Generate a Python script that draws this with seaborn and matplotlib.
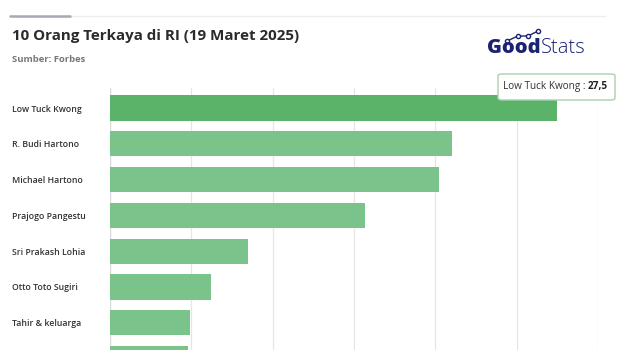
import matplotlib
matplotlib.use("Agg")
import matplotlib.pyplot as plt
from matplotlib.lines import Line2D
from matplotlib.patches import FancyBboxPatch
import seaborn as sns
import pandas as pd

# Net worth in billion USD (Forbes, 19 March 2025)
names = ["Low Tuck Kwong", "R. Budi Hartono", "Michael Hartono", "Prajogo Pangestu",
         "Sri Prakash Lohia", "Otto Toto Sugiri", "Tahir & keluarga", "Chairul Tanjung"]
net_worth = [27.5, 21.0, 20.2, 15.7, 8.5, 6.2, 4.9, 4.8]
x_ticks = [0, 5, 10, 15, 20, 25, 30]

df = pd.DataFrame({"name": names, "value": net_worth})

sns.set_theme(style="white")
plt.rcParams["font.family"] = ["Open Sans", "DejaVu Sans"]

W, H = 640, 350
fig = plt.figure(figsize=(W / 100, H / 100), dpi=100)
fig.patch.set_facecolor("white")

slot = 35.8
top_px = 88
left_px, right_px = 110, 598
first_center = 108
y_top = -(first_center - top_px) / slot
y_bottom = 9.5
ax_h_px = (y_bottom - y_top) * slot
ax = fig.add_axes([left_px / W, 1 - (top_px + ax_h_px) / H,
                   (right_px - left_px) / W, ax_h_px / H])

palette = ["#5BB36A"] + ["#7AC38A"] * (len(names) - 1)
sns.barplot(data=df, x="value", y="name", hue="name", palette=palette, saturation=1,
            orient="h", width=0.7, legend=False, ax=ax, zorder=2)
for p in ax.patches:
    p.set_edgecolor("none")

ax.set_xlim(0, 30)
ax.set_ylim(y_bottom, y_top)
ax.set_xticks(x_ticks)
ax.set_xticklabels([])
ax.xaxis.grid(True, color="#E6E6E6", linewidth=0.9, zorder=0)
ax.yaxis.grid(False)
ax.set_xlabel("")
ax.set_ylabel("")
for s in ax.spines.values():
    s.set_visible(False)
ax.axvline(0, color="#DADADA", linewidth=0.9, zorder=1)
# labels start 12 px from the figure edge
ax.tick_params(axis="y", length=0, pad=(left_px - 12) * 0.72)
ylabels = ax.get_yticklabels()
for lab in ylabels:
    lab.set_horizontalalignment("left")
    lab.set_fontsize(6.3)
    lab.set_color("#333333")
    lab.set_fontweight("semibold")
# the last row sits below the bottom edge of the canvas
ylabels[-1].set_visible(False)

# header rule
fig.add_artist(Line2D([10 / W, 605 / W], [1 - 16 / H] * 2, color="#EEEEEE", linewidth=1.0))
fig.add_artist(Line2D([10 / W, 70 / W], [1 - 16 / H] * 2, color="#A7A9B4", linewidth=1.8))

fig.text(12 / W, 1 - 36 / H, "10 Orang Terkaya di RI (19 Maret 2025)", fontsize=10.9,
         fontweight="bold", color="#2B2B2B", va="center", ha="left")
fig.text(12 / W, 1 - 60 / H, "Sumber: Forbes", fontsize=6.8, fontweight="bold",
         color="#777777", va="center", ha="left")

# GoodStats logo
navy = "#1B2272"
t1 = fig.text(487 / W, 1 - 48 / H, "Good", fontsize=14.5, fontweight="heavy",
              color=navy, va="center", ha="left")
fig.canvas.draw()
bb = t1.get_window_extent()
fig.text(bb.x1 / W, 1 - 48 / H, "Stats", fontsize=14.5, fontweight="light",
         color=navy, va="center", ha="left")
pts_x = [507, 518, 528, 538]
pts_y = [41, 36, 36, 31]
fig.add_artist(Line2D([x / W for x in pts_x], [1 - y / H for y in pts_y], color=navy,
                      linewidth=1.0, marker="o", markersize=3, markerfacecolor="white",
                      markeredgecolor=navy, markeredgewidth=1.0))

# tooltip
box = FancyBboxPatch((498 / W, 1 - 100 / H), 117 / W, 26 / H,
                     boxstyle="round,pad=0,rounding_size=0.006",
                     transform=fig.transFigure, facecolor="white",
                     edgecolor="#A9CFAF", linewidth=1.0, zorder=10)
fig.add_artist(box)
t2 = fig.text(503 / W, 1 - 87 / H, "Low Tuck Kwong : ", fontsize=7.2, color="#333333",
              va="center", ha="left", zorder=11)
fig.canvas.draw()
bb2 = t2.get_window_extent()
fig.text(bb2.x1 / W, 1 - 87 / H, "27,5", fontsize=7.2, fontweight="bold",
         color="#222222", va="center", ha="left", zorder=11)

fig.savefig("out.png", dpi=100, facecolor="white")
